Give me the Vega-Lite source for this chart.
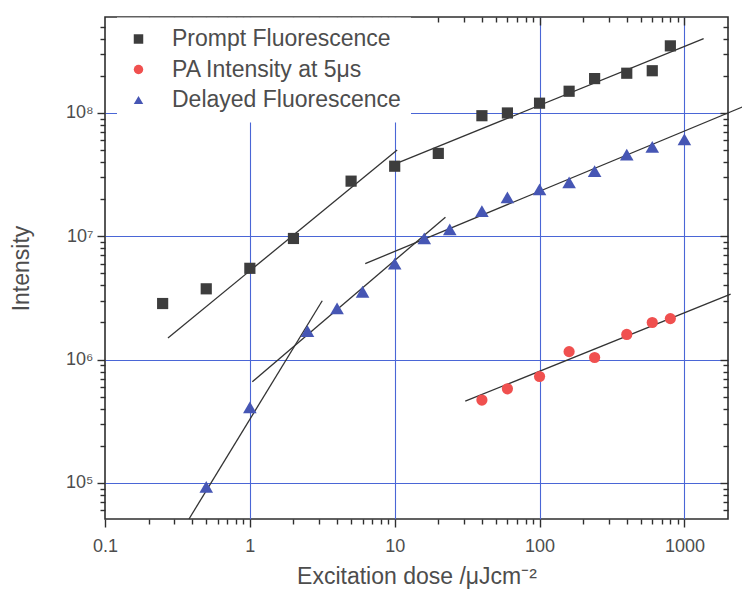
{
  "$schema": "https://vega.github.io/schema/vega-lite/v6.json",
  "width": 623,
  "height": 502,
  "autosize": {"type": "none"},
  "padding": {"left": 105, "top": 17, "right": 14, "bottom": 81},
  "background": "white",
  "config": {
    "font": "Liberation Sans",
    "view": {"stroke": "#2e2e2e", "strokeWidth": 1.6},
    "axis": {
      "domain": false,
      "tickColor": "#2e2e2e",
      "tickWidth": 1.4,
      "labelColor": "#4d4d4d",
      "labelFontSize": 18,
      "titleColor": "#4d4d4d",
      "titleFontSize": 23,
      "titleFontWeight": "normal",
      "labelFlush": false,
      "labelOverlap": false,
      "labelBound": false
    },
    "legend": {
      "orient": "none",
      "legendX": 12,
      "legendY": 0.5,
      "padding": 10,
      "fillColor": "white",
      "labelFontSize": 23,
      "labelColor": "#4d4d4d",
      "labelLimit": 400,
      "symbolSize": 90,
      "symbolStrokeWidth": 0,
      "rowPadding": 6.5,
      "labelOffset": 22
    }
  },
  "datasets": {
    "measured": [
      {"series": "Prompt Fluorescence", "dose": 0.25, "intensity": 2850000},
      {"series": "Prompt Fluorescence", "dose": 0.5, "intensity": 3750000},
      {"series": "Prompt Fluorescence", "dose": 1, "intensity": 5500000},
      {"series": "Prompt Fluorescence", "dose": 2, "intensity": 9600000},
      {"series": "Prompt Fluorescence", "dose": 5, "intensity": 28000000},
      {"series": "Prompt Fluorescence", "dose": 10, "intensity": 37000000},
      {"series": "Prompt Fluorescence", "dose": 20, "intensity": 47000000},
      {"series": "Prompt Fluorescence", "dose": 40, "intensity": 95000000},
      {"series": "Prompt Fluorescence", "dose": 60, "intensity": 100000000},
      {"series": "Prompt Fluorescence", "dose": 100, "intensity": 120000000},
      {"series": "Prompt Fluorescence", "dose": 160, "intensity": 150000000},
      {"series": "Prompt Fluorescence", "dose": 240, "intensity": 190000000},
      {"series": "Prompt Fluorescence", "dose": 400, "intensity": 210000000},
      {"series": "Prompt Fluorescence", "dose": 600, "intensity": 220000000},
      {"series": "Prompt Fluorescence", "dose": 800, "intensity": 350000000},
      {"series": "PA Intensity at 5μs", "dose": 40, "intensity": 470000},
      {"series": "PA Intensity at 5μs", "dose": 60, "intensity": 580000},
      {"series": "PA Intensity at 5μs", "dose": 100, "intensity": 730000},
      {"series": "PA Intensity at 5μs", "dose": 160, "intensity": 1160000},
      {"series": "PA Intensity at 5μs", "dose": 240, "intensity": 1040000},
      {"series": "PA Intensity at 5μs", "dose": 400, "intensity": 1600000},
      {"series": "PA Intensity at 5μs", "dose": 600, "intensity": 2000000},
      {"series": "PA Intensity at 5μs", "dose": 800, "intensity": 2150000},
      {"series": "Delayed Fluorescence", "dose": 0.5, "intensity": 93000},
      {"series": "Delayed Fluorescence", "dose": 1, "intensity": 410000},
      {"series": "Delayed Fluorescence", "dose": 2.5, "intensity": 1700000},
      {"series": "Delayed Fluorescence", "dose": 4, "intensity": 2600000},
      {"series": "Delayed Fluorescence", "dose": 6, "intensity": 3550000},
      {"series": "Delayed Fluorescence", "dose": 10, "intensity": 6000000},
      {"series": "Delayed Fluorescence", "dose": 16, "intensity": 9600000},
      {"series": "Delayed Fluorescence", "dose": 24, "intensity": 11400000},
      {"series": "Delayed Fluorescence", "dose": 40, "intensity": 16000000},
      {"series": "Delayed Fluorescence", "dose": 60, "intensity": 20700000},
      {"series": "Delayed Fluorescence", "dose": 100, "intensity": 24000000},
      {"series": "Delayed Fluorescence", "dose": 160, "intensity": 27400000},
      {"series": "Delayed Fluorescence", "dose": 240, "intensity": 33700000},
      {"series": "Delayed Fluorescence", "dose": 400, "intensity": 46000000},
      {"series": "Delayed Fluorescence", "dose": 600, "intensity": 53000000},
      {"series": "Delayed Fluorescence", "dose": 1000, "intensity": 61000000}
    ],
    "fits": [
      {"fit": "prompt-low", "dose": 0.272, "intensity": 1500000},
      {"fit": "prompt-low", "dose": 10.4, "intensity": 50000000},
      {"fit": "prompt-high", "dose": 10, "intensity": 38500000},
      {"fit": "prompt-high", "dose": 1358, "intensity": 400000000},
      {"fit": "delayed-high", "dose": 6.26, "intensity": 6000000},
      {"fit": "delayed-high", "dose": 2524, "intensity": 112000000},
      {"fit": "delayed-mid", "dose": 1.04, "intensity": 660000},
      {"fit": "delayed-mid", "dose": 22.4, "intensity": 14300000},
      {"fit": "delayed-low", "dose": 0.38, "intensity": 51000},
      {"fit": "delayed-low", "dose": 3.16, "intensity": 3000000},
      {"fit": "pa", "dose": 30.7, "intensity": 460000},
      {"fit": "pa", "dose": 2085, "intensity": 3400000}
    ]
  },
  "layer": [
    {
      "data": {"name": "fits"},
      "mark": {"type": "line", "color": "#333333", "strokeWidth": 1.3, "clip": false},
      "encoding": {
        "x": {
          "field": "dose",
          "type": "quantitative",
          "scale": {"type": "log", "domain": [0.1, 2000], "nice": false},
          "axis": {
            "orient": "top",
            "title": null,
            "labels": false,
            "grid": false,
            "values": [0.2, 0.3, 0.4, 0.5, 0.6, 0.7, 0.8, 0.9, 1, 2, 3, 4, 5, 6, 7, 8, 9, 10, 20, 30, 40, 50, 60, 70, 80, 90, 100, 200, 300, 400, 500, 600, 700, 800, 900, 1000],
            "tickSize": {"condition": {"test": "abs(log(datum.value)/LN10 - round(log(datum.value)/LN10)) < 1e-6", "value": -8}, "value": -5}
          }
        },
        "y": {
          "field": "intensity",
          "type": "quantitative",
          "scale": {"type": "log", "domain": [51000, 600000000], "nice": false},
          "axis": {
            "orient": "right",
            "title": null,
            "labels": false,
            "grid": false,
            "values": [60000, 70000, 80000, 90000, 100000, 200000, 300000, 400000, 500000, 600000, 700000, 800000, 900000, 1000000, 2000000, 3000000, 4000000, 5000000, 6000000, 7000000, 8000000, 9000000, 10000000, 20000000, 30000000, 40000000, 50000000, 60000000, 70000000, 80000000, 90000000, 100000000, 200000000, 300000000, 400000000, 500000000],
            "tickSize": {"condition": {"test": "abs(log(datum.value)/LN10 - round(log(datum.value)/LN10)) < 1e-6", "value": -8}, "value": -5}
          }
        },
        "detail": {"field": "fit", "type": "nominal"}
      }
    },
    {
      "data": {"name": "measured"},
      "mark": {
        "type": "point",
        "filled": true,
        "opacity": 1,
        "size": {"expr": "datum.series === 'Delayed Fluorescence' ? 185 : 125"}
      },
      "encoding": {
        "x": {
          "field": "dose",
          "type": "quantitative",
          "scale": {"type": "log", "domain": [0.1, 2000], "nice": false},
          "axis": {
            "orient": "bottom",
            "title": "Excitation dose /μJcm⁻²",
            "titlePadding": 10,
            "labelPadding": 10,
            "values": [0.1, 0.2, 0.3, 0.4, 0.5, 0.6, 0.7, 0.8, 0.9, 1, 2, 3, 4, 5, 6, 7, 8, 9, 10, 20, 30, 40, 50, 60, 70, 80, 90, 100, 200, 300, 400, 500, 600, 700, 800, 900, 1000],
            "labelExpr": "abs(log(datum.value)/LN10 - round(log(datum.value)/LN10)) < 1e-6 ? '' + datum.value : ''",
            "tickSize": {"condition": {"test": "abs(log(datum.value)/LN10 - round(log(datum.value)/LN10)) < 1e-6", "value": 8}, "value": 5},
            "grid": true,
            "gridColor": "#4a66d6",
            "gridWidth": 1.1,
            "gridOpacity": {"condition": {"test": "datum.value >= 1 && abs(log(datum.value)/LN10 - round(log(datum.value)/LN10)) < 1e-6", "value": 1}, "value": 0}
          }
        },
        "y": {
          "field": "intensity",
          "type": "quantitative",
          "scale": {"type": "log", "domain": [51000, 600000000], "nice": false},
          "axis": {
            "orient": "left",
            "title": "Intensity",
            "titlePadding": 32,
            "labelPadding": 4,
            "values": [60000, 70000, 80000, 90000, 100000, 200000, 300000, 400000, 500000, 600000, 700000, 800000, 900000, 1000000, 2000000, 3000000, 4000000, 5000000, 6000000, 7000000, 8000000, 9000000, 10000000, 20000000, 30000000, 40000000, 50000000, 60000000, 70000000, 80000000, 90000000, 100000000, 200000000, 300000000, 400000000, 500000000],
            "labelExpr": "abs(log(datum.value)/LN10 - round(log(datum.value)/LN10)) < 1e-6 ? '10' + ['⁰','¹','²','³','⁴','⁵','⁶','⁷','⁸','⁹'][round(log(datum.value)/LN10)] : ''",
            "tickSize": {"condition": {"test": "abs(log(datum.value)/LN10 - round(log(datum.value)/LN10)) < 1e-6", "value": 8}, "value": 5},
            "grid": true,
            "gridColor": "#4a66d6",
            "gridWidth": 1.1,
            "gridOpacity": {"condition": {"test": "abs(log(datum.value)/LN10 - round(log(datum.value)/LN10)) < 1e-6", "value": 1}, "value": 0}
          }
        },
        "color": {
          "field": "series",
          "type": "nominal",
          "title": null,
          "scale": {
            "domain": ["Prompt Fluorescence", "PA Intensity at 5μs", "Delayed Fluorescence"],
            "range": ["#3d3d3d", "#f0504f", "#4656b4"]
          }
        },
        "shape": {
          "field": "series",
          "type": "nominal",
          "title": null,
          "scale": {
            "domain": ["Prompt Fluorescence", "PA Intensity at 5μs", "Delayed Fluorescence"],
            "range": ["square", "circle", "triangle-up"]
          }
        }
      }
    }
  ],
  "resolve": {"axis": {"x": "independent", "y": "independent"}}
}
